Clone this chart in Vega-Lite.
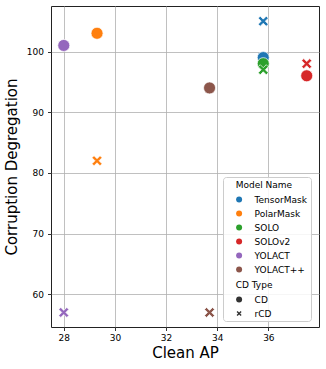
{
  "$schema": "https://vega.github.io/schema/vega-lite/v6.json",
  "autosize": {"type": "none"},
  "padding": {"left": 51, "top": 6, "right": 7, "bottom": 42},
  "width": 268,
  "height": 321,
  "background": "white",
  "data": {"values": [
    {"model": "TensorMask", "type": "CD", "ap": 35.8, "deg": 99},
    {"model": "TensorMask", "type": "rCD", "ap": 35.8, "deg": 105},
    {"model": "PolarMask", "type": "CD", "ap": 29.3, "deg": 103},
    {"model": "PolarMask", "type": "rCD", "ap": 29.3, "deg": 82},
    {"model": "SOLO", "type": "CD", "ap": 35.8, "deg": 98},
    {"model": "SOLO", "type": "rCD", "ap": 35.8, "deg": 97},
    {"model": "SOLOv2", "type": "CD", "ap": 37.5, "deg": 96},
    {"model": "SOLOv2", "type": "rCD", "ap": 37.5, "deg": 98},
    {"model": "YOLACT", "type": "CD", "ap": 28.0, "deg": 101},
    {"model": "YOLACT", "type": "rCD", "ap": 28.0, "deg": 57},
    {"model": "YOLACT++", "type": "CD", "ap": 33.7, "deg": 94},
    {"model": "YOLACT++", "type": "rCD", "ap": 33.7, "deg": 57}
  ]},
  "mark": {"type": "point", "filled": true, "opacity": 1, "size": 144, "stroke": "white", "strokeWidth": 0.7},
  "encoding": {
    "x": {"field": "ap", "type": "quantitative", "title": "Clean AP",
      "scale": {"domain": [27.5, 37.98], "nice": false, "zero": false},
      "axis": {"values": [28, 30, 32, 34, 36], "titlePadding": 3, "labelPadding": 3}},
    "y": {"field": "deg", "type": "quantitative", "title": "Corruption Degregation",
      "scale": {"domain": [54.6, 107.5], "nice": false, "zero": false},
      "axis": {"values": [60, 70, 80, 90, 100], "titlePadding": 7, "labelPadding": 4}},
    "color": {"field": "model", "type": "nominal", "title": "Model Name",
      "scale": {"domain": ["TensorMask", "PolarMask", "SOLO", "SOLOv2", "YOLACT", "YOLACT++", " ", "  ", "   "],
        "range": ["#1f77b4", "#ff7f0e", "#2ca02c", "#d62728", "#9467bd", "#8c564b", "transparent", "transparent", "transparent"]},
      "legend": {"orient": "none", "legendX": 172, "legendY": 171, "padding": 4,
        "fillColor": "rgba(255,255,255,0.85)", "strokeColor": "#cccccc", "cornerRadius": 3,
        "symbolType": "circle", "symbolSize": 36, "symbolStrokeWidth": 0, "symbolOffset": 7.6,
        "rowPadding": 4, "titlePadding": 5, "labelOffset": 11,
        "encoding": {"title": {"dx": {"value": 8.7}}}}},
    "shape": {"field": "type", "type": "nominal", "title": "CD Type",
      "scale": {"domain": ["CD", "rCD"], "range": ["circle", "M-0.84,-0.5L-0.5,-0.84L0,-0.34L0.5,-0.84L0.84,-0.5L0.34,0L0.84,0.5L0.5,0.84L0,0.34L-0.5,0.84L-0.84,0.5L-0.34,0Z"]},
      "legend": {"orient": "none", "legendX": 172, "legendY": 271, "padding": 4,
        "symbolSize": 36, "symbolFillColor": "#333333", "symbolStrokeWidth": 0, "symbolOffset": 7.6,
        "rowPadding": 4, "titlePadding": 5, "labelOffset": 11,
        "encoding": {"title": {"dx": {"value": 8.7}}}}}
  },
  "config": {
    "view": {"stroke": "#222222", "strokeWidth": 1},
    "axis": {"grid": true, "gridColor": "#b0b0b0", "gridWidth": 0.8, "domain": false,
      "tickColor": "#000000", "tickSize": 3.5, "tickWidth": 0.8, "labelFlush": false,
      "labelFont": "DejaVu Sans", "labelFontSize": 9, "labelColor": "#000000",
      "titleFont": "DejaVu Sans", "titleFontSize": 15, "titleFontWeight": "normal", "titleColor": "#000000"},
    "legend": {"labelFont": "DejaVu Sans", "labelFontSize": 9, "labelColor": "#000000",
      "titleFont": "DejaVu Sans", "titleFontSize": 9, "titleFontWeight": "normal", "titleColor": "#000000"}
  }
}
